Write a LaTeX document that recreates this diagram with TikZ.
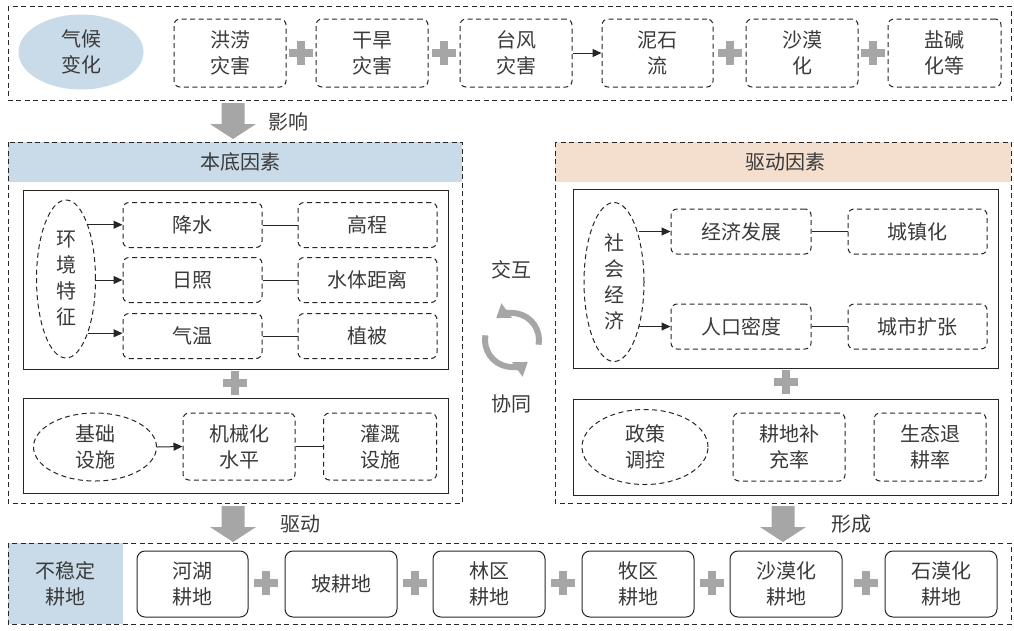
\documentclass[tikz,border=0pt]{standalone}
\usepackage{fontspec}
\setmainfont{Noto Sans CJK SC}
\usetikzlibrary{shapes.geometric,arrows.meta}
\definecolor{txt}{HTML}{3A3A3A}
\definecolor{lblue}{HTML}{C9DBE8}
\definecolor{peach}{HTML}{F4DECD}
\definecolor{pgray}{HTML}{A6A6A6}
\tikzset{
  every node/.style={font=\fontsize{20}{26}\selectfont, text=txt, align=center, inner sep=0pt},
  frame/.style={draw=black!85, line width=1pt, dash pattern=on 5pt off 3.5pt},
  dbox/.style={draw=black!85, line width=1pt, dash pattern=on 5pt off 3.5pt, rounded corners=6pt, rectangle},
  sbox/.style={draw=black!85, line width=1pt, rounded corners=8pt, rectangle},
  inbox/.style={draw=black!85, line width=1pt},
  dell/.style={draw=black!85, line width=1pt, dash pattern=on 5pt off 3.5pt, ellipse},
  arr/.style={-{Triangle[length=9pt,width=8pt]}, line width=1pt, black!85},
  lnk/.style={line width=1pt, black!85},
  cyc/.style={pgray, line width=6pt, -{Triangle[length=13pt,width=17pt]}},
  plus/.pic={\fill[pgray] (-12,-4) rectangle (12,4); \fill[pgray] (-4,-12) rectangle (4,12);},
  bigarrow/.pic={\fill[pgray] (-11.5,0) -- (11.5,0) -- (11.5,21) -- (23,21) -- (0,36) -- (-23,21) -- (-11.5,21) -- cycle;},
}
\begin{document}
\begin{tikzpicture}[x=1pt,y=-1pt]
\useasboundingbox (0,0) rectangle (1014,630);
% ---------- top row ----------
\draw[frame] (8,6) rectangle (1011,100);
\node[ellipse, fill=lblue, minimum width=125, minimum height=75] (qh) at (81,52) {气候\\变化};
\node[dbox, minimum width=112, minimum height=68] (t1) at (230,53) {洪涝\\灾害};
\node[dbox, minimum width=112, minimum height=68] (t2) at (372,53) {干旱\\灾害};
\node[dbox, minimum width=112, minimum height=68] (t3) at (516,53) {台风\\灾害};
\node[dbox, minimum width=111, minimum height=68] (t4) at (657.5,53) {泥石\\流};
\node[dbox, minimum width=112, minimum height=68] (t5) at (802,53) {沙漠\\化};
\node[dbox, minimum width=113, minimum height=68] (t6) at (944.5,53) {盐碱\\化等};
\pic at (301,53) {plus};
\pic at (444,53) {plus};
\pic at (730,53) {plus};
\pic at (873,53) {plus};
\draw[arr] (t3.east) -- (t4.west);
% ---------- arrow 影响 ----------
\pic at (233,103) {bigarrow};
\node (yx) at (288,122) {影响};
% ---------- left block ----------
\fill[lblue] (8,142) rectangle (462,182);
\draw[frame] (8,142) rectangle (462,503);
\node (bd) at (240,162) {本底因素};
\draw[inbox] (23,190) rectangle (448,369);
\node[dell, minimum width=59, minimum height=158] (hj) at (66,279) {环\\境\\特\\征};
\node[dbox, minimum width=139, minimum height=45] (js) at (192.5,225) {降水};
\node[dbox, minimum width=139, minimum height=45] (gc) at (367.5,225) {高程};
\node[dbox, minimum width=139, minimum height=45] (rz) at (192.5,280) {日照};
\node[dbox, minimum width=139, minimum height=45] (st) at (367.5,280) {水体距离};
\node[dbox, minimum width=139, minimum height=45] (qw) at (192.5,336) {气温};
\node[dbox, minimum width=139, minimum height=45] (zb) at (367.5,336) {植被};
\draw[arr] (hj.68) -- (hj.68 -| js.west);
\draw[arr] (hj.east |- rz.west) -- (rz.west);
\draw[arr] (hj.-68) -- (hj.-68 -| qw.west);
\draw[lnk] (js.east) -- (gc.west);
\draw[lnk] (rz.east) -- (st.west);
\draw[lnk] (qw.east) -- (zb.west);
\pic at (235,383) {plus};
\draw[inbox] (23,398) rectangle (448,493);
\node[dell, minimum width=123, minimum height=68] (jc) at (95,447) {基础\\设施};
\node[dbox, minimum width=112, minimum height=67] (jx) at (239,446.5) {机械化\\水平};
\node[dbox, minimum width=113, minimum height=67] (gg) at (380,446.5) {灌溉\\设施};
\draw[arr] (jc.east) -- (jx.west);
\draw[lnk] (jx.east) -- (gg.west);
% ---------- middle ----------
\node (jh) at (511,270) {交互};
\node (xt) at (511,404) {协同};
\coordinate (cyc) at (512,340);
\draw[cyc] ([shift={(10:27)}]cyc) arc[start angle=10, end angle=-126, radius=27];
\draw[cyc] ([shift={(190:27)}]cyc) arc[start angle=190, end angle=54, radius=27];
% ---------- right block ----------
\fill[peach] (555,142) rectangle (1011,182);
\draw[frame] (555,142) rectangle (1011,503);
\node (qd) at (785,162) {驱动因素};
\draw[inbox] (573,189) rectangle (998,368);
\node[dell, minimum width=60, minimum height=159] (sh) at (614,282) {社\\会\\经\\济};
\node[dbox, minimum width=140, minimum height=45] (jj) at (741,231.5) {经济发展};
\node[dbox, minimum width=139, minimum height=45] (cz) at (917.5,231.5) {城镇化};
\node[dbox, minimum width=140, minimum height=45] (rk) at (741,326.5) {人口密度};
\node[dbox, minimum width=139, minimum height=45] (cs) at (917.5,326.5) {城市扩张};
\draw[arr] (sh.east |- jj.west) ++(-6,0) -- (jj.west);
\draw[arr] (sh.east |- rk.west) ++(-6,0) -- (rk.west);
\draw[lnk] (jj.east) -- (cz.west);
\draw[lnk] (rk.east) -- (cs.west);
\pic at (786,382) {plus};
\draw[inbox] (573,399) rectangle (998,495);
\node[dell, minimum width=126, minimum height=75] (zc) at (645,447) {政策\\调控};
\node[dbox, minimum width=112, minimum height=68] (bc) at (789,447) {耕地补\\充率};
\node[dbox, minimum width=112, minimum height=68] (tg) at (930,447) {生态退\\耕率};
% ---------- arrows 驱动 / 形成 ----------
\pic at (233,506) {bigarrow};
\node (qdl) at (300,524) {驱动};
\pic at (783,506) {bigarrow};
\node (xc) at (851,524) {形成};
% ---------- bottom row ----------
\fill[lblue] (8,543) rectangle (123,624);
\draw[frame] (8,543) rectangle (1011,624);
\node (bw) at (65.5,583.5) {不稳定\\耕地};
\node[sbox, minimum width=111, minimum height=66] (b1) at (192.5,584) {河湖\\耕地};
\node[sbox, minimum width=112, minimum height=66] (b2) at (341,584) {坡耕地};
\node[sbox, minimum width=112, minimum height=66] (b3) at (489,584) {林区\\耕地};
\node[sbox, minimum width=112, minimum height=66] (b4) at (638,584) {牧区\\耕地};
\node[sbox, minimum width=112, minimum height=66] (b5) at (786,584) {沙漠化\\耕地};
\node[sbox, minimum width=112, minimum height=66] (b6) at (941,584) {石漠化\\耕地};
\pic at (266,583) {plus};
\pic at (415,583) {plus};
\pic at (563,583) {plus};
\pic at (712,583) {plus};
\pic at (866,583) {plus};
\end{tikzpicture}
\end{document}
